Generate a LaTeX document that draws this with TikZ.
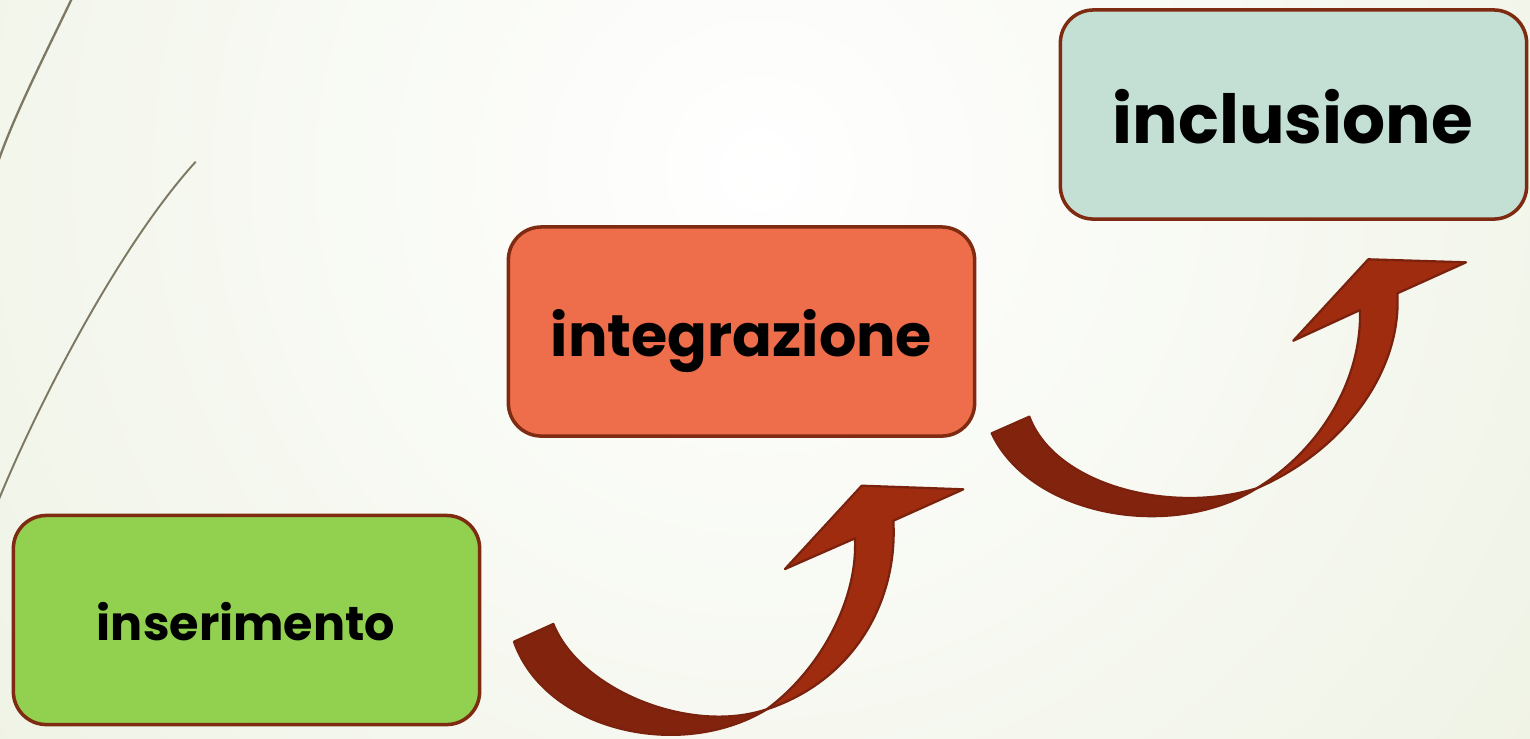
\documentclass[tikz,border=0pt]{standalone}
\usepackage{fontspec}
\usepackage{graphicx}
\newfontfamily\pop{Poppins}
\definecolor{bgout}{HTML}{E3EAD2}
\definecolor{decoline}{HTML}{7D7862}
\definecolor{boxline}{HTML}{7F2B12}
\definecolor{insgreen}{HTML}{92D050}
\definecolor{intcoral}{HTML}{EE6D4B}
\definecolor{incteal}{HTML}{C4E0D5}
\definecolor{arrdark}{HTML}{82230D}
\definecolor{arrlight}{HTML}{A02C10}
\definecolor{arrowline}{HTML}{7A220E}
\begin{document}
\begin{tikzpicture}[x=0.01cm,y=-0.01cm,
  box/.style={draw=boxline, line width=1pt, rounded corners=0.33cm, minimum width=4.66cm, minimum height=2.09cm, inner sep=0pt},
  lbl/.style={anchor=base, inner sep=0pt, font=\pop\bfseries, text=black},
  deco/.style={draw=decoline, line width=0.65pt},
  band/.style={draw=arrowline, line width=0.65pt, line join=round}]
\useasboundingbox (0,0) rectangle (1530,738);
\begin{scope}
  \clip (0,0) rectangle (1530,738);
  \fill[inner color=white, outer color=bgout] (760,170) circle (17cm);
\end{scope}
% decorative lines
\draw[deco] (75,-8) .. controls (45,55) and (14,115) .. (-3,165);
\draw[deco, line width=0.55pt] (195.7,161.7) .. controls (120,245) and (40,400) .. (0,496.7) -- (-6,512);
% boxes
\node[box, fill=insgreen] (ins) at (246.5,620) {};
\node[box, fill=intcoral] (int) at (741.5,331.5) {};
\node[box, fill=incteal] (inc) at (1293.5,114.5) {};
\node[lbl] (tins) at (246,640.7) {\resizebox{2.98cm}{!}{inserimento}};
\node[lbl] (tint) at (741.5,356) {\resizebox{3.81cm}{!}{integrazione}};
\node[lbl] (tinc) at (1293,143) {\resizebox{3.60cm}{!}{inclusione}};
% arrow 1
\filldraw[band, fill=arrdark] (514,641.7) .. controls (545,730) and (680,762) .. (766.7,709.3)
  .. controls (690,735) and (580,690) .. (553.3,624) -- cycle;
\filldraw[band, fill=arrlight] (766.7,709.3) .. controls (820,670) and (858,600) .. (855,538.3)
  -- (785,569) -- (861.7,485.7) -- (963.3,489.3) -- (893.3,520.7)
  .. controls (898,600) and (855,680) .. (766.7,709.3) -- cycle;
% arrow 2
\filldraw[band, fill=arrdark] (991.7,433.3) .. controls (1030,515) and (1170,542) .. (1256.7,488.3)
  .. controls (1170,515) and (1055,485) .. (1029.3,416.7) -- cycle;
\filldraw[band, fill=arrlight] (1256.7,488.3) .. controls (1320,450) and (1362,380) .. (1360,310)
  -- (1293.3,340.7) -- (1368.3,259.3) -- (1466,262.3) -- (1397.3,293.3)
  .. controls (1402,370) and (1345,450) .. (1256.7,488.3) -- cycle;
\end{tikzpicture}
\end{document}
